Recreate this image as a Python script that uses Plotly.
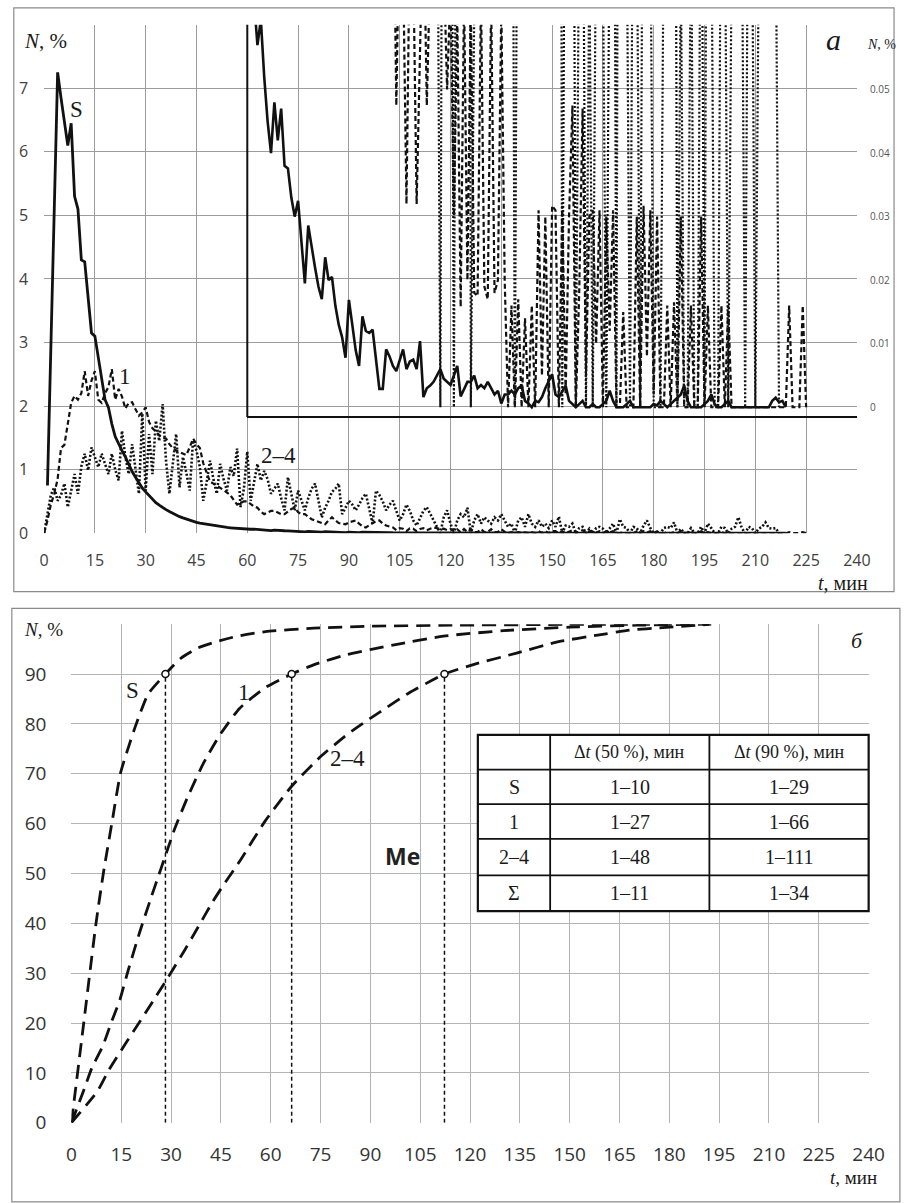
import plotly.graph_objects as go

W, H = 912, 1203


def px(x):
    return x / W


def py(y):
    return 1 - y / H


# ---------------- data: panel (a), share of particles per minute, N % ----------------
t_min = list(range(0, 241))

N_S = [
    None, 0.75, 3.0, 5.15, 7.25, 6.85, 6.45, 6.1, 6.45, 5.3,
    5.1, 4.3, 4.27, 3.7, 3.15, 3.1, 2.75, 2.4, 2.1, 1.98,
    1.72, 1.52, 1.4, 1.3, 1.2, 1.08, 0.97, 0.88, 0.79, 0.71,
    0.65, 0.59, 0.53, 0.48, 0.44, 0.40, 0.37, 0.34, 0.31, 0.28,
    0.26, 0.24, 0.22, 0.2, 0.19, 0.17, 0.16, 0.15, 0.14, 0.13,
    0.12, 0.11, 0.1, 0.095, 0.09, 0.085, 0.08, 0.076, 0.072, 0.068,
    0.065, 0.062, 0.064, 0.057, 0.061, 0.052, 0.045, 0.040, 0.048, 0.042,
    0.047, 0.038, 0.0376, 0.033, 0.030, 0.0325, 0.026, 0.0195, 0.0286, 0.025,
    0.022, 0.019, 0.017, 0.0236, 0.020, 0.0205, 0.016, 0.013, 0.011, 0.0078,
    0.0169, 0.013, 0.009, 0.0065, 0.0143, 0.012, 0.0117, 0.0122, 0.008, 0.0029,
    0.0029, 0.0091, 0.008, 0.0065, 0.0057, 0.0075, 0.0091, 0.006, 0.0072, 0.0075,
    0.006, 0.0104, 0.0016, 0.003, 0.0034, 0.004, 0.005, 0.006, 0.0045, 0.004,
    0.0035, 0.005, 0.0065, 0.0017, 0.003, 0.004, 0.004, 0.005, 0.003, 0.0035,
    0.003, 0.004, 0.003, 0.002, 0.0026, 0.0006, 0.002, 0.002, 0.0026, 0.002,
    0.003, 0.0034, 0.001, 0.0006, 0.0, 0.001, 0.0008, 0.0016, 0.003, 0.004,
    0.0052, 0.002, 0.0016, 0.0025, 0.0034, 0.001, 0.0005, 0.0, 0.0005, 0.001,
    0.0, 0.0, 0.0005, 0.0, 0.0, 0.0005, 0.001, 0.0026, 0.001, 0.0,
    0.0, 0.0, 0.0005, 0.001, 0.0, 0.0, 0.0, 0.0, 0.0, 0.0,
    0.0005, 0.0003, 0.001, 0.0005, 0.0, 0.0005, 0.001, 0.0015, 0.002, 0.0034,
    0.001, 0.0, 0.0, 0.0, 0.0, 0.0005, 0.001, 0.002, 0.0005, 0.0,
    0.0, 0.0005, 0.001, 0.0, 0.0, 0.0, 0.0, 0.0, 0.0, 0.0,
    0.0, 0.0, 0.0, 0.0, 0.0, 0.001, 0.0015, 0.0008, 0.001, 0.0,
    None, None, None, None, None, None, None, None, None, None,
    None, None, None, None, None, None, None, None, None, None,
    None,
]

N_1 = [
    0.0, 0.2, 0.45, 0.62, 0.85, 1.34, 1.39, 1.7, 2.05, 2.16,
    2.1, 2.2, 2.55, 2.16, 2.4, 2.55, 2.1, 2.05, 2.2, 2.3,
    2.58, 2.1, 2.27, 2.15, 1.96, 2.05, 2.06, 1.95, 1.85, 1.9,
    1.98, 1.75, 1.65, 1.6, 1.54, 1.5, 1.49, 1.4, 1.34, 1.3,
    1.28, 1.25, 1.23, 1.35, 1.49, 1.4, 1.34, 1.1, 0.95, 0.81,
    0.78, 0.75, 0.71, 0.68, 0.64, 0.6, 0.52, 0.45, 0.48, 0.5,
    0.5, 0.46, 0.42, 0.4, 0.34, 0.3, 0.32, 0.35, 0.35, 0.33,
    0.3, 0.3, 0.34, 0.38, 0.4, 0.33, 0.3, 0.3, 0.26, 0.22,
    0.2, 0.18, 0.16, 0.14, 0.2, 0.25, 0.2, 0.16, 0.15, 0.14,
    0.17, 0.19, 0.2, 0.15, 0.11, 0.09, 0.12, 0.16, 0.19, 0.2,
    0.15, 0.12, 0.1, 0.09, 0.0475, 0.08, 0.07, 0.032, 0.075, 0.07,
    0.032, 0.065, 0.08, 0.0475, 0.07, 0.09, 0.08, 0.065, 0.07, 0.05,
    0.066, 0.03, 0.062, 0.0158, 0.065, 0.02, 0.064, 0.018, 0.0175, 0.065,
    0.019, 0.017, 0.064, 0.018, 0.02, 0.063, 0.02, 0.0, 0.016, 0.0,
    0.017, 0.0, 0.014, 0.0, 0.016, 0.0, 0.031, 0.005, 0.03, 0.0,
    0.0317, 0.031, 0.0, 0.0317, 0.002, 0.03, 0.0475, 0.0, 0.018, 0.047,
    0.005, 0.03, 0.031, 0.01, 0.031, 0.0, 0.03, 0.012, 0.031, 0.0,
    0.0, 0.015, 0.0, 0.0, 0.0, 0.03, 0.0, 0.0317, 0.008, 0.031,
    0.002, 0.03, 0.0, 0.0, 0.016, 0.0, 0.0165, 0.0, 0.03, 0.0,
    0.0, 0.016, 0.0, 0.0, 0.03, 0.0, 0.016, 0.0, 0.0, 0.0,
    0.016, 0.0, 0.016, 0.0, 0.0, 0.0, 0.0, 0.0, 0.0, 0.0,
    0.0, 0.0, 0.0, 0.0, 0.0, 0.0, 0.0, 0.0, 0.0, 0.0,
    0.016, 0.0, 0.0, 0.0, 0.016, 0.0, None, None, None, None,
    None, None, None, None, None, None, None, None, None, None,
    None,
]

N_24 = [
    0.0, 0.3, 0.6, 0.72, 0.51, 0.6, 0.78, 0.41, 0.7, 0.93,
    0.62, 1.05, 1.25, 0.99, 1.35, 1.2, 1.04, 1.25, 1.1, 0.93,
    1.25, 1.0, 0.83, 1.61, 1.2, 0.93, 1.4, 1.0, 0.62, 1.88,
    0.67, 1.56, 0.93, 1.77, 1.45, 2.03, 1.14, 0.62, 1.1, 1.56,
    0.72, 1.2, 0.95, 0.67, 1.46, 1.3, 1.04, 0.51, 0.8, 1.14,
    0.85, 0.62, 1.09, 0.85, 0.67, 1.04, 0.9, 1.33, 0.41, 0.7,
    1.28, 0.51, 0.8, 1.09, 0.83, 0.98, 0.85, 0.62, 0.7, 0.78,
    0.55, 0.36, 0.88, 0.6, 0.36, 0.67, 0.5, 0.36, 0.55, 0.7,
    0.78, 0.5, 0.25, 0.4, 0.51, 0.65, 0.7, 0.78, 0.3, 0.4,
    0.51, 0.45, 0.36, 0.45, 0.55, 0.62, 0.4, 0.15, 0.67, 0.6,
    0.5, 0.36, 0.45, 0.51, 0.35, 0.2, 0.3, 0.45, 0.35, 0.2,
    0.12, 0.25, 0.35, 0.41, 0.3, 0.2, 0.1, 0.0, 0.25, 0.36,
    0.15, 0.0, 0.2, 0.3, 0.25, 0.4, 0.0, 0.2, 0.3, 0.15,
    0.25, 0.2, 0.15, 0.25, 0.2, 0.3, 0.2, 0.1, 0.15, 0.0,
    0.2, 0.25, 0.1, 0.3, 0.15, 0.1, 0.2, 0.1, 0.15, 0.08,
    0.2, 0.1, 0.26, 0.0, 0.12, 0.1, 0.15, 0.0, 0.08, 0.1,
    0.0, 0.07, 0.0, 0.08, 0.1, 0.07, 0.0, 0.08, 0.15, 0.0,
    0.22, 0.1, 0.08, 0.0, 0.1, 0.08, 0.0, 0.12, 0.2, 0.08,
    0.0, 0.0, 0.0, 0.08, 0.1, 0.08, 0.17, 0.0, 0.07, 0.0,
    0.0, 0.08, 0.0, 0.0, 0.1, 0.0, 0.15, 0.08, 0.0, 0.0,
    0.1, 0.08, 0.0, 0.07, 0.1, 0.25, 0.08, 0.0, 0.1, 0.08,
    0.0, 0.07, 0.1, 0.17, 0.08, 0.07, 0.08, 0.0, None, None,
    None, None, None, None, None, None, None, None, None, None,
    None, None, None, None, None, None, None, None, None, None,
    None,
]

# ---------------- data: panel (б), cumulative share N % ----------------
cum_S_t = [0, 3.7, 7.4, 9.6, 12.4, 14.8, 19.2, 23.1, 28.3, 33, 38, 43.7, 50, 58.4, 73, 90, 115, 150, 192]
cum_S = [0, 20, 40, 50, 61, 70.2, 79.4, 86, 90, 93.2, 95.2, 96.5, 97.6, 98.5, 99.2, 99.6, 99.8, 99.95, 100]

cum_1_t = [0, 3.6, 6.1, 9.5, 12, 14.6, 17.1, 20.4, 24.1, 26.1, 28, 31, 34.9, 39.8, 44.7, 50.6, 58.4, 66.3, 73.1, 82.9, 97.6, 112, 130, 150, 170, 192]
cum_1 = [0, 6.3, 10.9, 15.5, 20.1, 24.7, 30.6, 37.9, 45.4, 49.3, 53, 58.8, 65.2, 72.2, 77.8, 83.1, 87.3, 90, 91.9, 93.9, 95.9, 97.6, 98.7, 99.4, 99.8, 100]

cum_24_t = [0, 7.8, 11.2, 16.2, 21.3, 25.5, 28, 30.6, 33.9, 38.1, 42.4, 45.7, 50.6, 58.4, 66.3, 75.1, 82.9, 88.8, 92.7, 101.6, 112.3, 121, 134, 146.7, 158.4, 168, 178, 192.6]
cum_24 = [0, 6.3, 10.5, 15.8, 21, 25.4, 28, 30.8, 34.4, 39.2, 44.2, 47.6, 52.4, 60.6, 67.5, 73.5, 77.8, 80.6, 82.3, 86.2, 90, 91.9, 94.2, 96.5, 97.8, 98.8, 99.3, 100]

mark_t = [28.3, 66.3, 112.3]
mark_N = [90, 90, 90]

tbl_rows = ["S", "1", "2–4", "Σ"]
tbl_50 = ["1–10", "1–27", "1–48", "1–11"]
tbl_90 = ["1–29", "1–66", "1–111", "1–34"]
tbl_head = ["", "Δ<i>t</i> (50 %), мин", "Δ<i>t</i> (90 %), мин"]

x_ticks = list(range(0, 241, 15))

# ---------------- figure ----------------
fig = go.Figure()
BLACK = "#111111"

# panel a main
fig.add_trace(go.Scatter(x=t_min, y=N_24, mode="lines", xaxis="x", yaxis="y",
                         line=dict(color=BLACK, width=2.6, dash="2px,2px")))
fig.add_trace(go.Scatter(x=t_min, y=N_1, mode="lines", xaxis="x", yaxis="y",
                         line=dict(color=BLACK, width=2.2, dash="5px,3px")))
fig.add_trace(go.Scatter(x=t_min, y=N_S, mode="lines", xaxis="x", yaxis="y",
                         line=dict(color=BLACK, width=2.8)))
# panel a inset (same series, magnified)
fig.add_trace(go.Scatter(x=t_min, y=N_24, mode="lines", xaxis="x2", yaxis="y2",
                         line=dict(color=BLACK, width=2.2, dash="2px,2px")))
fig.add_trace(go.Scatter(x=t_min, y=N_1, mode="lines", xaxis="x2", yaxis="y2",
                         line=dict(color=BLACK, width=2.2, dash="5px,3px")))
fig.add_trace(go.Scatter(x=t_min, y=N_S, mode="lines", xaxis="x2", yaxis="y2",
                         line=dict(color=BLACK, width=2.6)))

# panel б
for tx, ny in zip(mark_t, mark_N):
    fig.add_trace(go.Scatter(x=[tx, tx], y=[0, ny], mode="lines", xaxis="x3", yaxis="y3",
                             line=dict(color=BLACK, width=1.5, dash="4px,3px")))
for xs, ys in ((cum_S_t, cum_S), (cum_1_t, cum_1), (cum_24_t, cum_24)):
    fig.add_trace(go.Scatter(x=xs, y=ys, mode="lines", xaxis="x3", yaxis="y3",
                             line=dict(color=BLACK, width=2.8, dash="14px,8px", shape="spline", smoothing=0.5)))
fig.add_trace(go.Scatter(x=mark_t, y=mark_N, mode="markers", xaxis="x3", yaxis="y3",
                         marker=dict(symbol="circle", size=7, color="white",
                                     line=dict(color=BLACK, width=1.5))))

tick_font_a = dict(family="Open Sans, Lato, sans-serif", size=16, color="#404040")
tick_font_b = dict(family="Open Sans, Lato, sans-serif", size=19, color="#333333")

fig.update_layout(
    width=W, height=H,
    margin=dict(l=0, r=0, t=0, b=0),
    paper_bgcolor="white",
    plot_bgcolor="rgba(0,0,0,0)",
    showlegend=False,
    xaxis=dict(domain=[px(40), px(872)], range=[0, 240], anchor="y",
               tickvals=x_ticks, showgrid=True, gridcolor="#9c9c9c", gridwidth=1.2,
               zeroline=False, showline=False, ticks="", tickfont=tick_font_a,
               ticklabelstandoff=16, fixedrange=True),
    yaxis=dict(domain=[py(539), py(25)], range=[0, 8], anchor="x",
               tickvals=[0, 1, 2, 3, 4, 5, 6, 7, 8],
               ticktext=["0", "1", "2", "3", "4", "5", "6", "7", ""],
               showgrid=True, gridcolor="#9c9c9c", gridwidth=1.2,
               zeroline=False, showline=False, ticks="", tickfont=tick_font_a,
               ticklabelstandoff=15),
    xaxis2=dict(domain=[px(248), px(872)], range=[60, 240], anchor="y2",
                showgrid=False, zeroline=False, showticklabels=False, ticks="",
                showline=True, linecolor=BLACK, linewidth=2),
    yaxis2=dict(domain=[py(420.7), py(25)], range=[-0.0014, 0.0602], anchor="x2",
                side="right", showgrid=False, zeroline=False, showline=False, ticks="",
                tickvals=[0, 0.01, 0.02, 0.03, 0.04, 0.05],
                ticktext=["0", "0.01", "0.02", "0.03", "0.04", "0.05"],
                tickfont=dict(family="Open Sans, sans-serif", size=10, color="#555555"),
                ticklabelstandoff=12),
    xaxis3=dict(domain=[px(68), px(884)], range=[0, 240], anchor="y3",
                tickvals=x_ticks, showgrid=True, gridcolor="#b4b4b4", gridwidth=1,
                zeroline=False, showline=False, ticks="", tickfont=tick_font_b,
                ticklabelstandoff=18),
    yaxis3=dict(domain=[py(1135), py(631)], range=[0, 100], anchor="x3",
                tickvals=list(range(0, 101, 10)),
                ticktext=[str(v) for v in range(0, 100, 10)] + [""],
                showgrid=True, gridcolor="#b4b4b4", gridwidth=1,
                zeroline=False, showline=False, ticks="", tickfont=tick_font_b,
                ticklabelstandoff=24),
)

shapes = []
# panel frames
shapes.append(dict(type="rect", xref="paper", yref="paper", x0=px(9), x1=px(910), y0=py(598), y1=py(8),
                   line=dict(color="#8a8a8a", width=1.2), fillcolor="rgba(0,0,0,0)", layer="below"))
shapes.append(dict(type="rect", xref="paper", yref="paper", x0=px(7), x1=px(916), y0=py(1215), y1=py(615),
                   line=dict(color="#8a8a8a", width=1.2), fillcolor="rgba(0,0,0,0)", layer="below"))
# inset left border
shapes.append(dict(type="line", xref="paper", yref="paper", x0=px(248), x1=px(248), y0=py(421.5), y1=py(25),
                   line=dict(color=BLACK, width=2)))

# table
tx0, tx1, tx2, tx3 = 484, 558, 721, 884
ty = [743, 778, 813, 848, 885, 921]
shapes.append(dict(type="rect", xref="paper", yref="paper", x0=px(tx0), x1=px(tx3), y0=py(ty[-1]), y1=py(ty[0]),
                   fillcolor="white", line=dict(color=BLACK, width=2.2)))
for yy in ty[1:-1]:
    shapes.append(dict(type="line", xref="paper", yref="paper", x0=px(tx0), x1=px(tx3), y0=py(yy), y1=py(yy),
                       line=dict(color=BLACK, width=1.8)))
for xx in (tx1, tx2):
    shapes.append(dict(type="line", xref="paper", yref="paper", x0=px(xx), x1=px(xx), y0=py(ty[-1]), y1=py(ty[0]),
                       line=dict(color=BLACK, width=1.8)))

serif = "Liberation Serif, Times New Roman, serif"
ann = []


def label(x, y, text, size, family=serif, color="#1a1a1a", xanchor="center"):
    ann.append(dict(xref="paper", yref="paper", x=px(x), y=py(y), text=text, showarrow=False,
                    xanchor=xanchor, yanchor="middle", font=dict(family=family, size=size, color=color)))


# panel a labels
label(41, 41, "<i>N</i>, %", 21)
label(73, 111, "S", 23)
label(123, 381, "1", 23)
label(280, 460, "2–4", 23)
label(848, 40, "<i>а</i>", 30)
label(880, 45, "<i>N</i>, %", 14, xanchor="left")
label(858, 589, "<i>t</i>, мин", 20)

# panel б labels
label(39, 636, "<i>N</i>, %", 19)
label(131, 698, "S", 23)
label(245, 700, "1", 23)
label(351, 767, "2–4", 23)
label(872, 647, "<i>б</i>", 22)
label(407, 865, "<b>Me</b>", 23, family="Open Sans, Lato, sans-serif", color="#222222")
label(868, 1190, "<i>t</i>, мин", 19)

# table text
cx = [(tx0 + tx1) / 2, (tx1 + tx2) / 2, (tx2 + tx3) / 2]
for j, h in enumerate(tbl_head):
    if h:
        label(cx[j], (ty[0] + ty[1]) / 2, h, 18)
for i in range(4):
    yc = (ty[i + 1] + ty[i + 2]) / 2
    label(cx[0], yc, tbl_rows[i], 20)
    label(cx[1], yc, tbl_50[i], 20)
    label(cx[2], yc, tbl_90[i], 20)

fig.update_layout(shapes=shapes, annotations=ann)
fig.write_html("out.html")
